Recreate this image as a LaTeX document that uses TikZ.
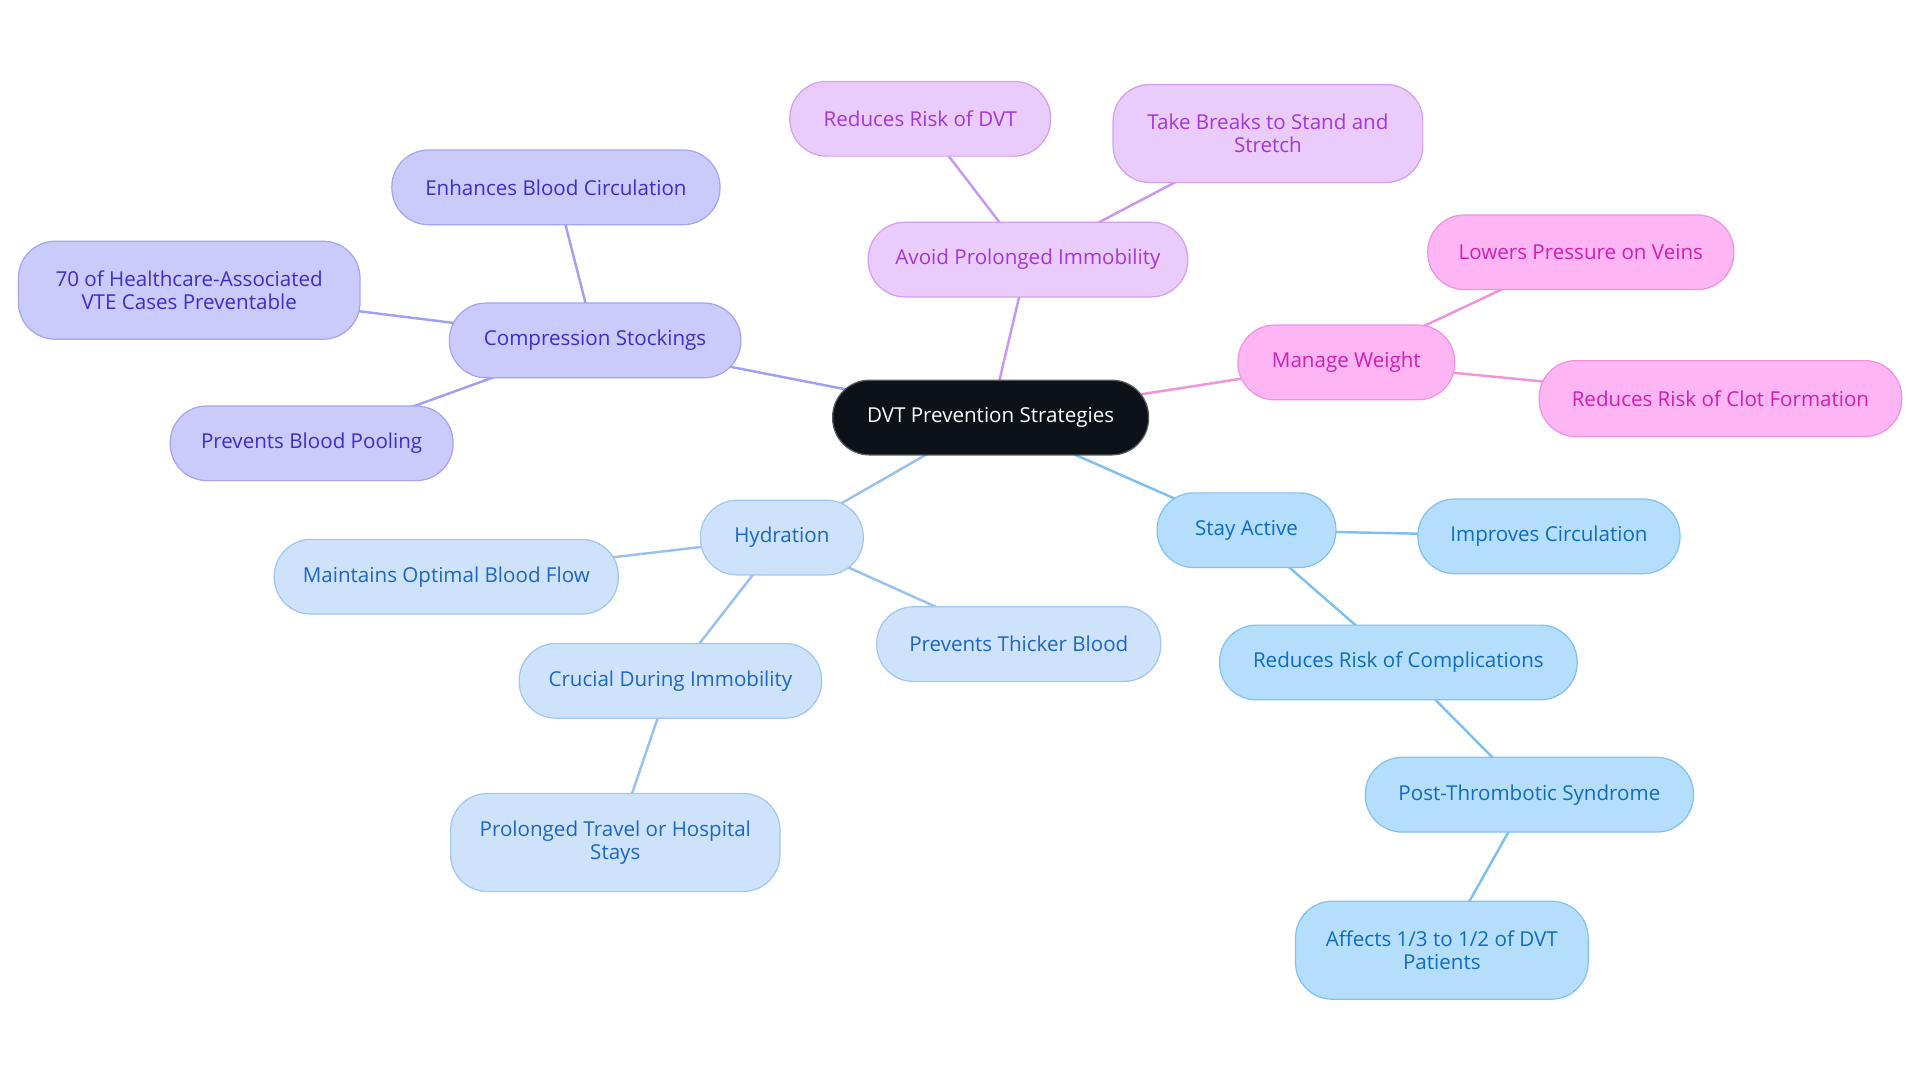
\documentclass[tikz,border=0pt]{standalone}
\usepackage{fontspec}
\setmainfont{Open Sans}
\usetikzlibrary{backgrounds}
\definecolor{csFill}{HTML}{CACBFB}\definecolor{csLine}{HTML}{A3A5F2}\definecolor{csText}{HTML}{3B2FC9}\definecolor{csEdge}{HTML}{9FA0F0}
\definecolor{apFill}{HTML}{E9CCFC}\definecolor{apLine}{HTML}{D49EF2}\definecolor{apText}{HTML}{A437D6}\definecolor{apEdge}{HTML}{CB95F2}
\definecolor{mwFill}{HTML}{FDB5F3}\definecolor{mwLine}{HTML}{F191E2}\definecolor{mwText}{HTML}{D11FB3}\definecolor{mwEdge}{HTML}{F291DC}
\definecolor{saFill}{HTML}{B5DEFC}\definecolor{saLine}{HTML}{80C3F2}\definecolor{saText}{HTML}{0F6CBE}\definecolor{saEdge}{HTML}{7DC0F0}
\definecolor{hyFill}{HTML}{CEE3FB}\definecolor{hyLine}{HTML}{9EC7F1}\definecolor{hyText}{HTML}{1C66C4}\definecolor{hyEdge}{HTML}{98C2EE}
\definecolor{rootFill}{HTML}{0D1219}
\begin{document}
\begin{tikzpicture}[x=1pt,y=-1pt,
  pill/.style={rectangle, rounded corners=30pt, inner sep=0pt, minimum height=61pt, line width=1pt, align=center, font=\fontsize{16.8}{18.5}\selectfont},
  rootbox/.style={pill, fill=rootFill, draw=rootFill!70!white, text=white},
  csbox/.style={pill, fill=csFill, draw=csLine, text=csText},
  apbox/.style={pill, fill=apFill, draw=apLine, text=apText},
  mwbox/.style={pill, fill=mwFill, draw=mwLine, text=mwText},
  sabox/.style={pill, fill=saFill, draw=saLine, text=saText},
  hybox/.style={pill, fill=hyFill, draw=hyLine, text=hyText},
  link/.style={line width=2pt}]
\useasboundingbox (0,0) rectangle (1568,884);

\node[rootbox, minimum width=258pt] (root) at (809,341) {DVT Prevention Strategies};

\node[csbox, minimum width=238pt] (cs) at (486,278) {Compression Stockings};
\node[csbox, minimum width=268pt] (ebc) at (454,153) {Enhances Blood Circulation};
\node[csbox, minimum width=279pt, minimum height=80pt] (hc) at (154.5,237) {70 of Healthcare-Associated\\VTE Cases Preventable};
\node[csbox, minimum width=231pt] (pbp) at (254.5,362) {Prevents Blood Pooling};

\node[apbox, minimum width=261pt] (api) at (839.5,212) {Avoid Prolonged Immobility};
\node[apbox, minimum width=213pt] (rrd) at (751.5,97) {Reduces Risk of DVT};
\node[apbox, minimum width=253pt, minimum height=80pt] (tb) at (1035.5,109) {Take Breaks to Stand and\\Stretch};

\node[mwbox, minimum width=177pt] (mw) at (1099.5,296) {Manage Weight};
\node[mwbox, minimum width=250pt] (lpv) at (1291,206) {Lowers Pressure on Veins};
\node[mwbox, minimum width=296pt, minimum height=62pt] (rrc) at (1405,325.5) {Reduces Risk of Clot Formation};

\node[sabox, minimum width=146pt] (sa) at (1018,433) {Stay Active};
\node[sabox, minimum width=214pt] (ic) at (1265,438) {Improves Circulation};
\node[sabox, minimum width=292pt] (rrco) at (1142,541) {Reduces Risk of Complications};
\node[sabox, minimum width=268pt] (pts) at (1249,649) {Post-Thrombotic Syndrome};
\node[sabox, minimum width=239pt, minimum height=80pt] (aff) at (1177.5,776) {Affects 1/3 to 1/2 of DVT\\Patients};

\node[hybox, minimum width=133pt] (hy) at (638.5,439) {Hydration};
\node[hybox, minimum width=281pt] (mob) at (364.5,471) {Maintains Optimal Blood Flow};
\node[hybox, minimum width=232pt] (ptb) at (832,526) {Prevents Thicker Blood};
\node[hybox, minimum width=247pt] (cdi) at (547.5,556) {Crucial During Immobility};
\node[hybox, minimum width=269pt, minimum height=80pt] (ptr) at (502.5,688) {Prolonged Travel or Hospital\\Stays};

\begin{scope}[on background layer]
\draw[link, csEdge] (root.center) -- (cs.center);
\draw[link, csEdge] (cs.center) -- (ebc.center);
\draw[link, csEdge] (cs.center) -- (hc.center);
\draw[link, csEdge] (cs.center) -- (pbp.center);
\draw[link, apEdge] (root.center) -- (api.center);
\draw[link, apEdge] (api.center) -- (rrd.center);
\draw[link, apEdge] (api.center) -- (tb.center);
\draw[link, mwEdge] (root.center) -- (mw.center);
\draw[link, mwEdge] (mw.center) -- (lpv.center);
\draw[link, mwEdge] (mw.center) -- (rrc.center);
\draw[link, saEdge] (root.center) -- (sa.center);
\draw[link, saEdge] (sa.center) -- (ic.center);
\draw[link, saEdge] (sa.center) -- (rrco.center);
\draw[link, saEdge] (rrco.center) -- (pts.center);
\draw[link, saEdge] (pts.center) -- (aff.center);
\draw[link, hyEdge] (root.center) -- (hy.center);
\draw[link, hyEdge] (hy.center) -- (mob.center);
\draw[link, hyEdge] (hy.center) -- (ptb.center);
\draw[link, hyEdge] (hy.center) -- (cdi.center);
\draw[link, hyEdge] (cdi.center) -- (ptr.center);
\end{scope}
\end{tikzpicture}
\end{document}
